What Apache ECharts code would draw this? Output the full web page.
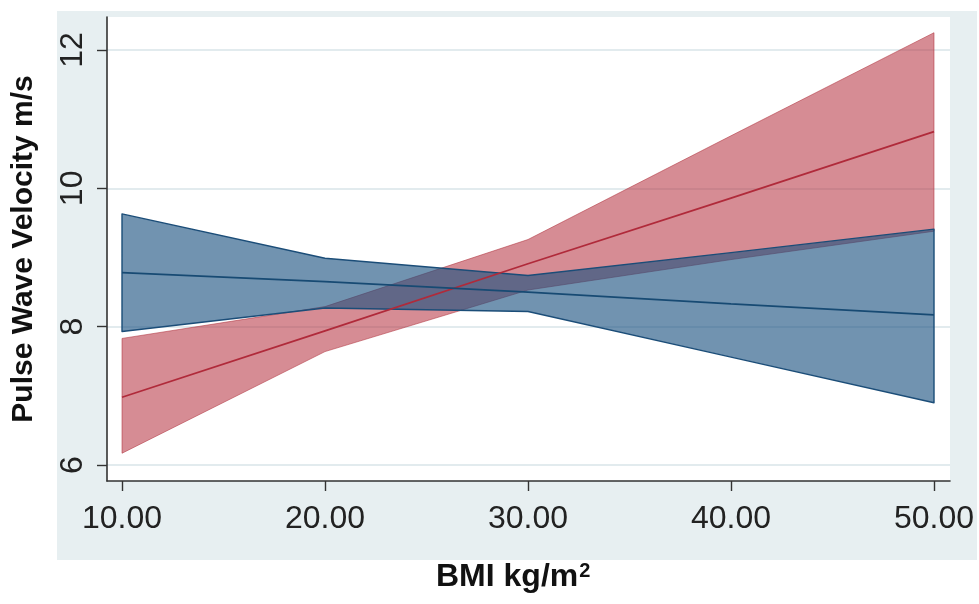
<!DOCTYPE html>
<html>
<head>
<meta charset="utf-8">
<script src="https://cdn.jsdelivr.net/npm/echarts@6/dist/echarts.min.js"></script>
<style>html,body{margin:0;padding:0;background:#fff;}#c{width:979px;height:604px;}</style>
</head>
<body>
<div id="c"></div>
<script>
// BMI values where the fitted lines / confidence bands are evaluated
const bmi = [10, 20, 30, 40, 50];
// Blue group
const blueFit = [8.78, 8.65, 8.50, 8.33, 8.17];
const blueUpper = [9.63, 8.99, 8.74, 9.07, 9.41];
const blueLower = [7.93, 8.27, 8.22, 7.56, 6.90];
// Red group
const redFit = [6.98, 7.94, 8.91, 9.86, 10.82];
const redUpper = [7.83, 8.29, 9.26, 10.76, 12.25];
const redLower = [6.17, 7.64, 8.53, 8.97, 9.38];
// Tick labels
const xTicks = [10, 20, 30, 40, 50];
const yTicks = [6, 8, 10, 12];

const FONT = 'Liberation Sans, Arial, Helvetica, sans-serif';

function band(lo, hi, fill, stroke, lw, z) {
  return {
    type: 'custom',
    z: z,
    silent: true,
    data: bmi.map((x, i) => [x, lo[i], hi[i]]),
    encode: { x: 0, y: [1, 2] },
    renderItem: function (params, api) {
      if (params.dataIndex !== 0) return null;
      const pts = [];
      for (let i = 0; i < bmi.length; i++) pts.push(api.coord([bmi[i], hi[i]]));
      for (let i = bmi.length - 1; i >= 0; i--) pts.push(api.coord([bmi[i], lo[i]]));
      return {
        type: 'polygon',
        shape: { points: pts },
        style: { fill: fill, stroke: stroke, lineWidth: lw, lineJoin: 'round' }
      };
    }
  };
}

function fitLine(fit, color, z) {
  return {
    type: 'line',
    z: z,
    silent: true,
    data: bmi.map((x, i) => [x, fit[i]]),
    showSymbol: false,
    symbol: 'none',
    lineStyle: { color: color, width: 1.8 }
  };
}

const chart = echarts.init(document.getElementById('c'), null, { renderer: 'canvas' });
chart.setOption({
  animation: false,
  backgroundColor: '#ffffff',
  graphic: [
    {
      type: 'rect', z: -10, silent: true,
      shape: { x: 57, y: 11, width: 920, height: 549 },
      style: { fill: '#e7eff1' }
    },
    {
      type: 'text', z: 10, silent: true,
      left: 436, top: 561,
      style: {
        text: 'BMI kg/m{sup|2}',
        font: 'bold 32px ' + FONT,
        fill: '#111',
        rich: {
          sup: { fontSize: 20, fontWeight: 'bold', fontFamily: FONT, fill: '#111', verticalAlign: 'top', padding: [0, 0, 13, 1] }
        }
      }
    }
  ],
  grid: {
    left: 107, right: 29, top: 17, bottom: 123,
    show: true, backgroundColor: '#ffffff', borderWidth: 0
  },
  xAxis: {
    type: 'value',
    min: 9.261, max: 50.788,
    axisLine: { show: true, onZero: false, lineStyle: { color: '#333', width: 1.6 } },
    axisTick: { show: true, length: 10, customValues: xTicks, lineStyle: { color: '#333', width: 1.4 } },
    axisLabel: {
      customValues: xTicks,
      formatter: v => v.toFixed(2),
      fontSize: 32, fontFamily: FONT, color: '#222', margin: 22
    },
    splitLine: { show: false }
  },
  yAxis: {
    type: 'value',
    min: 5.769, max: 12.477,
    name: 'Pulse Wave Velocity m/s',
    nameLocation: 'middle',
    nameGap: 68,
    nameTextStyle: { fontSize: 30, fontWeight: 'bold', fontFamily: FONT, color: '#111' },
    axisLine: { show: true, onZero: false, lineStyle: { color: '#333', width: 1.6 } },
    axisTick: { show: true, length: 10, customValues: yTicks, lineStyle: { color: '#333', width: 1.4 } },
    axisLabel: {
      customValues: yTicks,
      rotate: 90,
      fontSize: 32, fontFamily: FONT, color: '#222', margin: 18
    },
    splitLine: { show: true, lineStyle: { color: '#e2ebee', width: 2 } }
  },
  series: [
    band(redLower, redUpper, 'rgba(180,45,60,0.55)', 'rgba(175,50,60,0.55)', 1, 2),
    band(blueLower, blueUpper, 'rgba(26,80,128,0.62)', '#1b4d78', 1.4, 3),
    fitLine(redFit, '#b02a3a', 4),
    fitLine(blueFit, '#174a73', 5)
  ]
});
</script>
</body>
</html>
